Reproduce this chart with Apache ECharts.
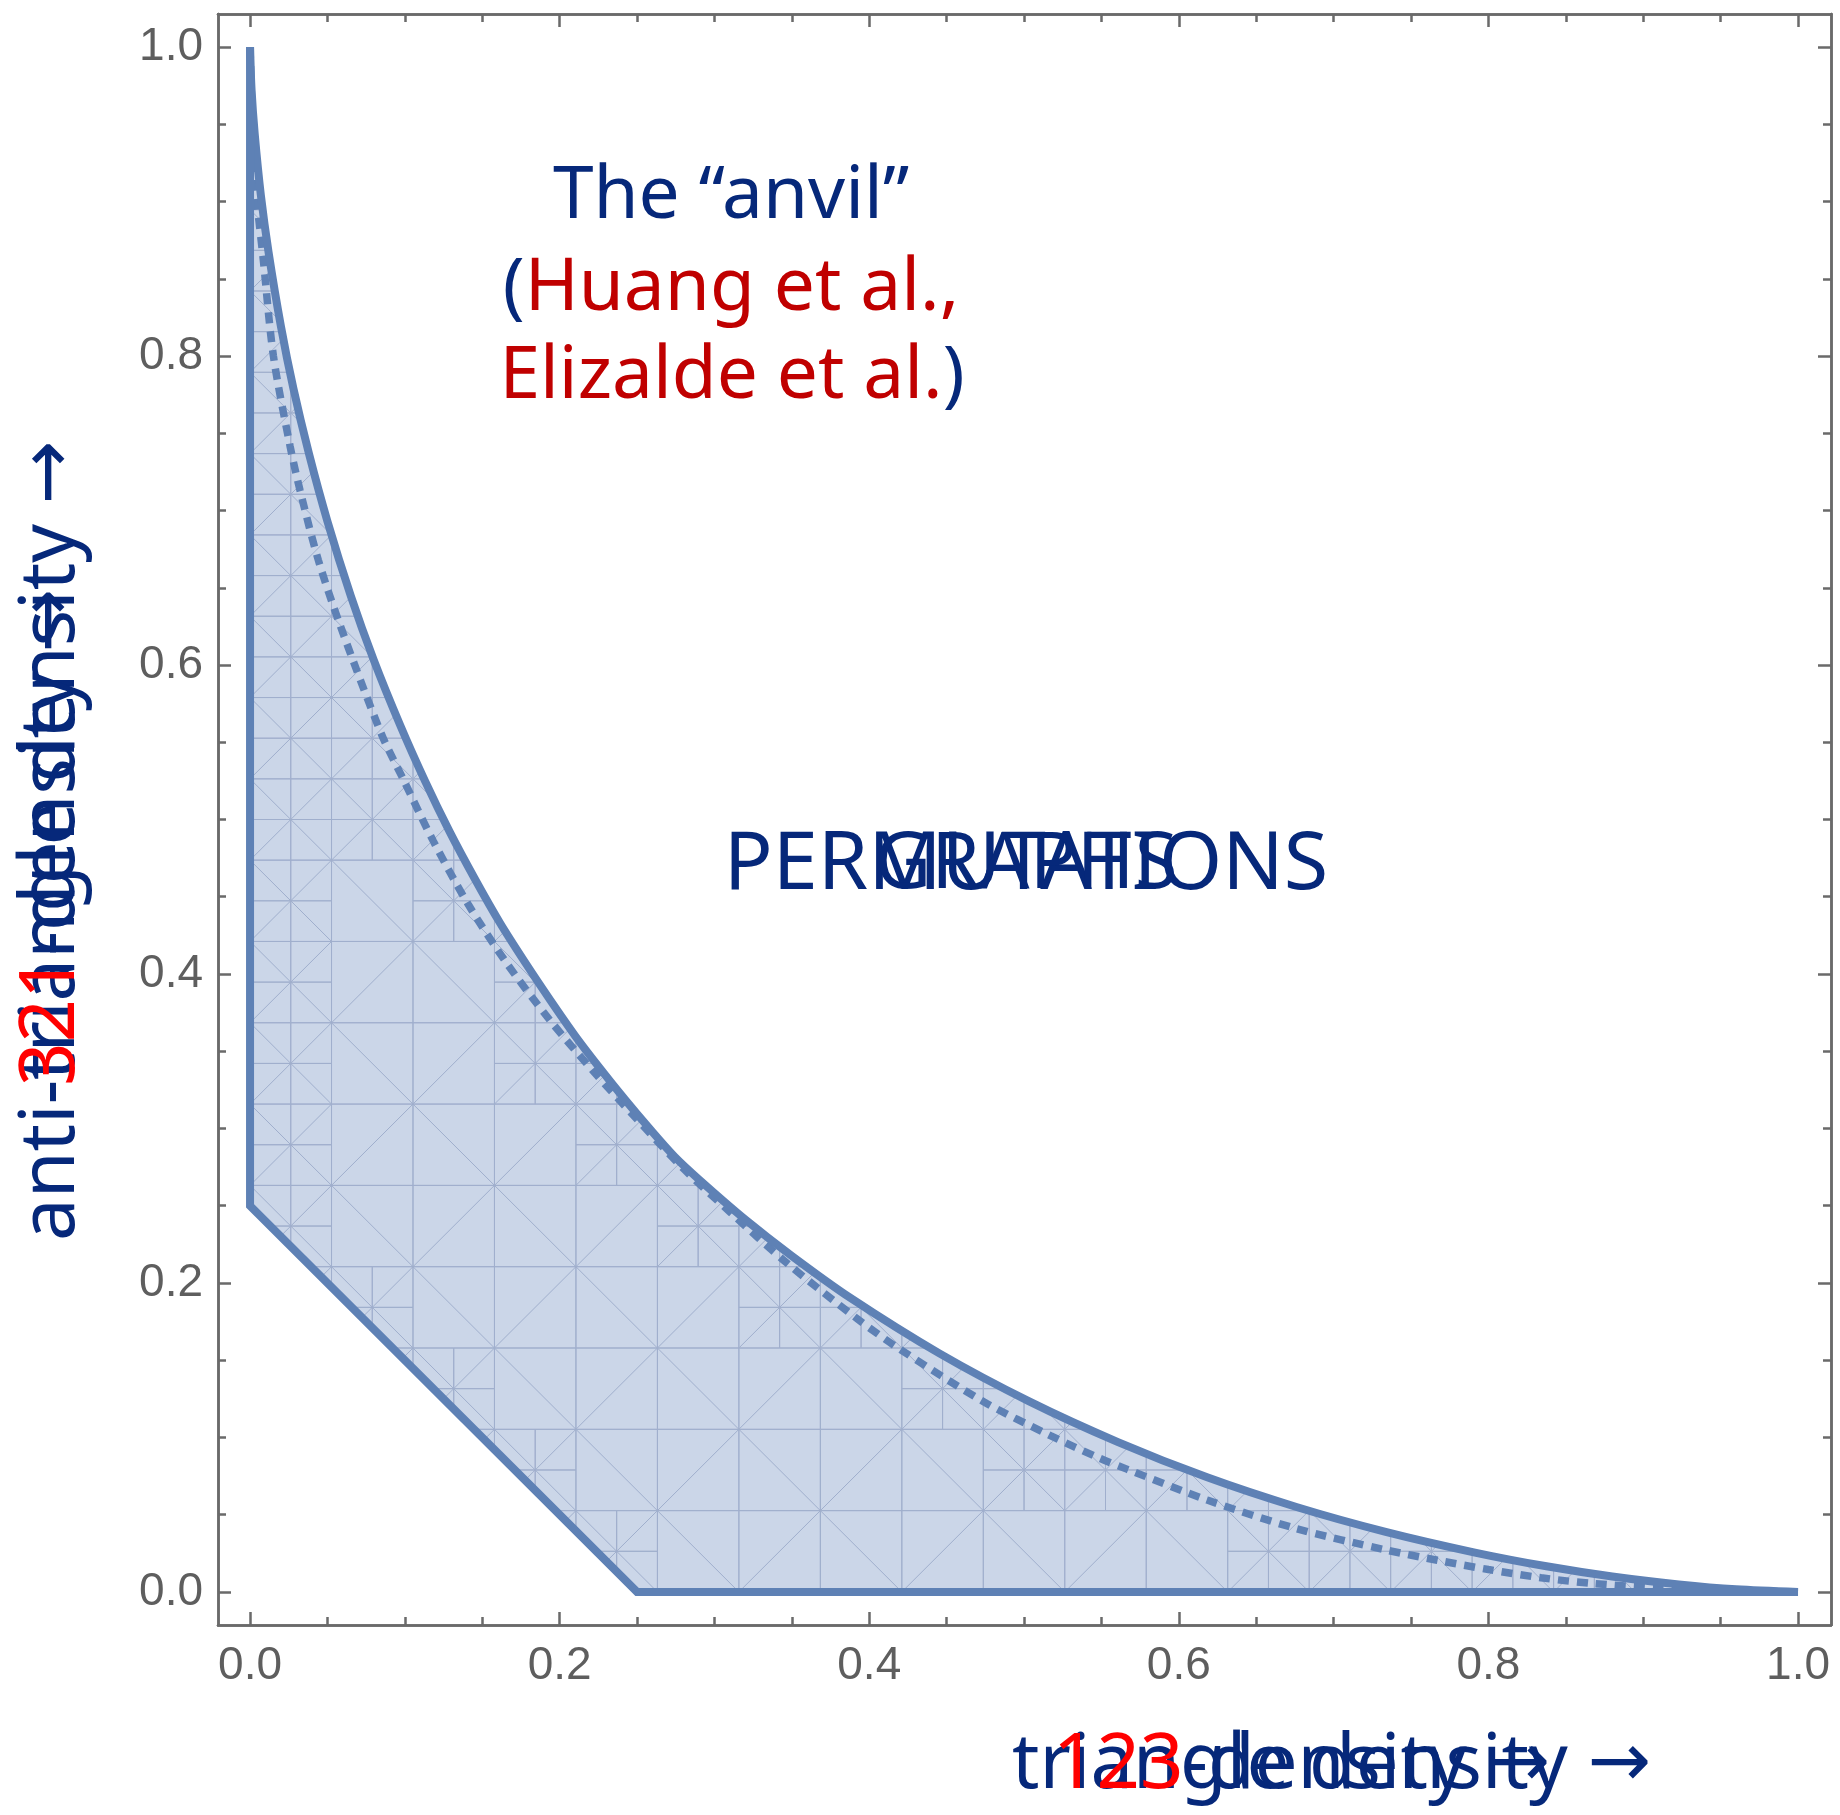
<!DOCTYPE html>
<html>
<head>
<meta charset="utf-8">
<script src="https://cdn.jsdelivr.net/npm/echarts@6/dist/echarts.min.js"></script>
<style>
  html, body { margin: 0; padding: 0; background: #fff; }
  #chart { width: 1840px; height: 1815px; }
</style>
</head>
<body>
<div id="chart"></div>
<script>
// upper edge of the graph region (Huang et al.)
const graphUpper = [
  [0, 1.0], [0.001, 0.972], [0.003, 0.944], [0.007, 0.904], [0.012, 0.867],
  [0.02, 0.819], [0.028, 0.779], [0.038, 0.737], [0.05, 0.693], [0.065, 0.645],
  [0.08, 0.603], [0.097, 0.561], [0.113, 0.525], [0.129, 0.492], [0.145, 0.462],
  [0.1615, 0.433], [0.178, 0.407], [0.194, 0.383], [0.21, 0.36], [0.226, 0.339],
  [0.242, 0.319], [0.258, 0.300], [0.274, 0.282], [0.29, 0.267], [0.32, 0.241],
  [0.35, 0.2175], [0.3876, 0.1905], [0.4453, 0.1544], [0.503, 0.1235], [0.5607, 0.097],
  [0.6183, 0.0742], [0.676, 0.055], [0.7336, 0.0389], [0.7913, 0.0255], [0.8375, 0.0166],
  [0.88, 0.0100], [0.923, 0.0049], [0.96, 0.0017], [1.0, 0]
];
// upper edge for permutations (Elizalde et al.), the dashed curve
const permUpper = [
  [0, 1.0], [0.0015, 0.95], [0.0032, 0.913], [0.0086, 0.862], [0.0151, 0.80],
  [0.0258, 0.742], [0.0323, 0.713], [0.0441, 0.668], [0.0581, 0.626], [0.085, 0.555],
  [0.099, 0.526], [0.1184, 0.486], [0.141, 0.445], [0.1658, 0.407], [0.1938, 0.37],
  [0.2218, 0.337], [0.25, 0.306], [0.28, 0.274], [0.31, 0.246], [0.3467, 0.213],
  [0.3933, 0.176], [0.42, 0.157], [0.4742, 0.123], [0.5174, 0.101], [0.549, 0.0865],
  [0.5664, 0.0795], [0.6183, 0.0595], [0.676, 0.041], [0.7336, 0.0272], [0.767, 0.0205],
  [0.80, 0.0145], [0.834, 0.0092], [0.867, 0.0055], [0.91, 0.0026], [0.95, 0.001], [1.0, 0]
];
// lower edge: wall at x = 0, then the line x + y = 1/4, then the x axis
const lowerEdge = [[0, 1], [0, 0.25], [0.25, 0], [1, 0]];

const majorTicks = [0, 0.2, 0.4, 0.6, 0.8, 1.0];
const minorTicks = [0.05, 0.1, 0.15, 0.25, 0.3, 0.35, 0.45, 0.5, 0.55, 0.65, 0.7, 0.75, 0.85, 0.9, 0.95];
const tickLabels = ['0.0', '0.2', '0.4', '0.6', '0.8', '1.0'];

const blue = '#5e81b5';
const navy = '#06287a';
const frameColor = '#6a6a6a';
const meshStep = 1 / 19;

function interp(pts, x) {
  for (let i = 1; i < pts.length; i++) {
    const a = pts[i - 1], b = pts[i];
    if (x <= b[0]) {
      if (b[0] === a[0]) return Math.min(a[1], b[1]);
      return a[1] + (b[1] - a[1]) * (x - a[0]) / (b[0] - a[0]);
    }
  }
  return pts[pts.length - 1][1];
}
function inside(x, y) {
  return x >= 0 && x <= 1 && y >= interp(lowerEdge, x) && y <= interp(graphUpper, x);
}
function segDist(px, py, a, b) {
  const dx = b[0] - a[0], dy = b[1] - a[1];
  const L = dx * dx + dy * dy;
  let t = L ? ((px - a[0]) * dx + (py - a[1]) * dy) / L : 0;
  t = Math.max(0, Math.min(1, t));
  const qx = a[0] + t * dx - px, qy = a[1] + t * dy - py;
  return Math.sqrt(qx * qx + qy * qy);
}
function edgeDist(x, y) {
  let d = Math.abs(x);
  d = Math.min(d, segDist(x, y, lowerEdge[1], lowerEdge[2]));
  for (let i = 1; i < graphUpper.length; i++) {
    d = Math.min(d, segDist(x, y, graphUpper[i - 1], graphUpper[i]));
  }
  return d;
}

// faint triangulation mesh inside the region (texture only):
// square cells with one diagonal each, split in four near the edges
function meshSegments() {
  const raw = [];
  function cell(x0, y0, s, flip) {
    const x1 = x0 + s, y1 = y0 + s;
    raw.push([[x0, y0], [x1, y0]], [[x0, y1], [x1, y1]], [[x0, y0], [x0, y1]], [[x1, y0], [x1, y1]]);
    raw.push(flip ? [[x0, y1], [x1, y0]] : [[x0, y0], [x1, y1]]);
  }
  const n = Math.round(1 / meshStep);
  const g = meshStep;
  for (let i = 0; i < n; i++) {
    for (let j = 0; j < n; j++) {
      const cx = (i + 0.5) * g, cy = (j + 0.5) * g;
      let any = false;
      for (let a = 0; a <= 4 && !any; a++)
        for (let b = 0; b <= 4 && !any; b++)
          if (inside(i * g + a * g / 4, j * g + b * g / 4)) any = true;
      if (!any) continue;
      if (edgeDist(cx, cy) < 0.8 * g) {
        for (let a = 0; a < 2; a++)
          for (let b = 0; b < 2; b++)
            cell(i * g + a * g / 2, j * g + b * g / 2, g / 2, (2 * i + a + 2 * j + b) % 2 === 1);
      } else {
        cell(i * g, j * g, g, (i + j) % 2 === 1);
      }
    }
  }
  const segs = [];
  const N = 40;
  raw.forEach(([p, q]) => {
    let start = null, last = null;
    for (let k = 0; k <= N; k++) {
      const t = k / N;
      const x = p[0] + (q[0] - p[0]) * t, y = p[1] + (q[1] - p[1]) * t;
      if (inside(x, y)) {
        if (!start) start = [x, y];
        last = [x, y];
      } else if (start) {
        segs.push([start, last]);
        start = null;
      }
    }
    if (start && (start[0] !== last[0] || start[1] !== last[1])) segs.push([start, last]);
  });
  return segs;
}
const meshSegs = meshSegments();

function frameAxis(pos, ticks, len, withLabel, isX) {
  const ax = {
    type: 'value',
    position: pos,
    min: isX ? -0.0207 : -0.0214,
    max: isX ? 1.0213 : 1.0214,
    axisLine: { show: true, onZero: false, lineStyle: { color: frameColor, width: 2.5 } },
    axisTick: { show: true, inside: true, length: len, customValues: ticks,
                lineStyle: { color: frameColor, width: 2.5 } },
    axisLabel: { show: false },
    splitLine: { show: false }
  };
  if (withLabel) {
    ax.axisLabel = {
      show: true,
      customValues: majorTicks,
      formatter: v => tickLabels[majorTicks.findIndex(t => Math.abs(t - v) < 1e-6)],
      fontFamily: 'Liberation Sans',
      fontSize: 46,
      color: '#5e5e5e',
      margin: isX ? 18 : 15
    };
  }
  return ax;
}

function richStyle(size) {
  return {
    n: { fill: navy, fontSize: size, fontFamily: 'Noto Sans' },
    r: { fill: '#ff0000', fontSize: size, fontFamily: 'Noto Sans' },
    d: { fill: '#c00000', fontSize: size, fontFamily: 'Noto Sans' },
    a: { fill: navy, fontSize: size, fontFamily: 'DejaVu Sans' }
  };
}

const chart = echarts.init(document.getElementById('chart'));
const option = {
  animation: false,
  backgroundColor: '#fff',
  grid: { left: 218, right: 9, top: 14, bottom: 190 },
  xAxis: [
    frameAxis('bottom', majorTicks, 13, true, true),
    frameAxis('bottom', minorTicks, 8, false, true),
    frameAxis('top', majorTicks, 13, false, true),
    frameAxis('top', minorTicks, 8, false, true)
  ],
  yAxis: [
    frameAxis('left', majorTicks, 13, true, false),
    frameAxis('left', minorTicks, 8, false, false),
    frameAxis('right', majorTicks, 13, false, false),
    frameAxis('right', minorTicks, 8, false, false)
  ],
  series: [
    {
      type: 'custom',
      name: 'region',
      data: [[0, 0]],
      z: 1,
      renderItem: function (params, api) {
        const pts = graphUpper.concat(lowerEdge.slice().reverse()).map(p => api.coord(p));
        const children = [{ type: 'polygon', shape: { points: pts }, style: { fill: '#cbd6e8' } }];
        meshSegs.forEach(s => {
          const a = api.coord(s[0]), b = api.coord(s[1]);
          children.push({ type: 'line', shape: { x1: a[0], y1: a[1], x2: b[0], y2: b[1] },
                          style: { stroke: '#a0afcd', lineWidth: 1 } });
        });
        return { type: 'group', children: children };
      }
    },
    {
      type: 'line', name: 'permutations', data: permUpper, z: 3,
      showSymbol: false, symbol: 'none', smooth: 0.3,
      lineStyle: { color: blue, width: 7.5, type: [11, 8] }
    },
    {
      type: 'line', name: 'graphs', data: graphUpper, z: 4,
      showSymbol: false, symbol: 'none', smooth: 0.3,
      lineStyle: { color: blue, width: 8 }
    },
    {
      type: 'line', name: 'lower', data: lowerEdge, z: 4,
      showSymbol: false, symbol: 'none',
      lineStyle: { color: blue, width: 8, join: 'miter' }
    }
  ],
  graphic: [
    { type: 'text', x: 731, y: 197, z: 10, style: {
        text: 'The “anvil”', fill: navy, fontSize: 73, fontFamily: 'Noto Sans',
        textAlign: 'center', textVerticalAlign: 'middle' } },
    { type: 'text', x: 731, y: 289, z: 10, style: {
        text: '{n|(}{d|Huang et al.,}', textAlign: 'center', textVerticalAlign: 'middle',
        rich: richStyle(73) } },
    { type: 'text', x: 732, y: 377, z: 10, style: {
        text: '{d|Elizalde et al.}{n|)}', textAlign: 'center', textVerticalAlign: 'middle',
        rich: richStyle(73) } },
    { type: 'text', x: 1026, y: 866, z: 10, style: {
        text: 'PERMUTATIONS', fill: navy, fontSize: 81, fontFamily: 'Noto Sans',
        textAlign: 'center', textVerticalAlign: 'middle' } },
    { type: 'text', x: 1026, y: 866, z: 10, style: {
        text: 'GRAPHS', fill: navy, fontSize: 78, fontFamily: 'Noto Sans',
        textAlign: 'center', textVerticalAlign: 'middle' } },
    { type: 'text', x: 1012, y: 1766, z: 10, style: {
        text: '{n|triangle density }{a|→}', textAlign: 'left', textVerticalAlign: 'middle',
        rich: richStyle(76) } },
    { type: 'text', x: 1053, y: 1766, z: 11, style: {
        text: '{r|123}{n|-density }{a|→}', textAlign: 'left', textVerticalAlign: 'middle',
        rich: richStyle(76) } },
    { type: 'text', x: 52, y: 1241, rotation: Math.PI / 2, z: 10, style: {
        text: '{n|anti-triangle density }{a|→}', textAlign: 'left', textVerticalAlign: 'middle',
        rich: richStyle(76) } },
    { type: 'text', x: 52, y: 1086, rotation: Math.PI / 2, z: 11, style: {
        text: '{r|321}{n|-density }{a|→}', textAlign: 'left', textVerticalAlign: 'middle',
        rich: richStyle(76) } }
  ]
};
chart.setOption(option);
</script>
</body>
</html>
